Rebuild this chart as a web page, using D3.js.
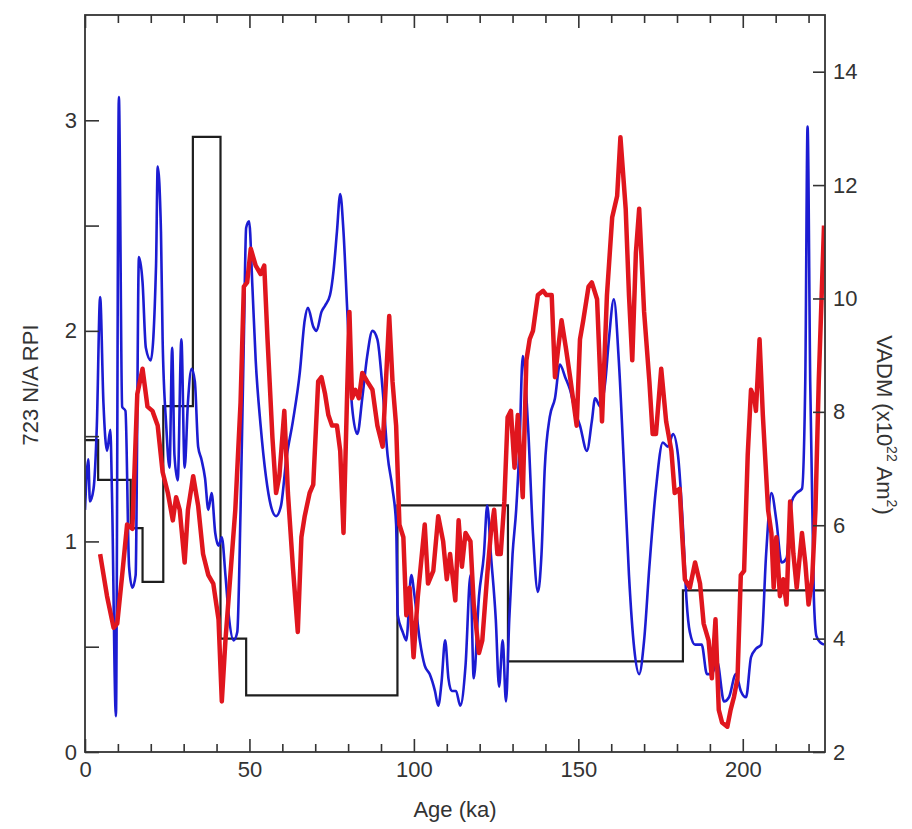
<!DOCTYPE html>
<html>
<head>
<meta charset="utf-8">
<script src="https://cdn.jsdelivr.net/npm/d3@7"></script>
<style>
  body { margin: 0; background: #fff; }
  text { font-family: "Liberation Sans", Arial, sans-serif; fill: #333; }
</style>
</head>
<body>
<div id="chart"></div>
<script>
// 723 RPI (blue), left axis
var blueAge = [0, 1.0, 1.5, 2.6, 3.6, 4.6, 5.6, 6.7, 7.7, 8.2, 9.4, 10.3, 11.3, 12.3, 13.4, 14.4, 15.4, 16.4, 17.5, 18.5,
  20.0, 21.6, 22.1, 23.1, 23.6, 24.7, 25.7, 26.5, 27.2, 28.2, 29.3, 30.3, 31.3, 32.4, 33.4, 34.4, 35.4, 36.5, 37.5, 38.5,
  39.6, 40.6, 41.6, 42.7, 43.7, 45.2, 46.3, 47.3, 48.3, 49.0, 49.9, 50.9, 51.9, 53.4, 55.0, 56.5, 58.1, 59.6, 61.2, 63.2,
  65.3, 66.8, 67.8, 69.4, 70.4, 71.9, 73.0, 74.5, 75.6, 76.6, 77.6, 78.6, 79.7, 81.2, 82.8, 84.3, 85.8, 87.4, 88.9, 90.5,
  92.0, 93.5, 94.6, 95.1, 96.6, 97.7, 99.2, 100.2, 101.8, 103.3, 104.8, 106.4, 107.4, 108.4, 109.5, 110.5, 111.5, 112.8, 114.1, 115.7,
  117.2, 118.2, 119.8, 121.3, 122.3, 123.4, 124.9, 125.9, 127.0, 128.0, 129.0, 130.0, 131.1, 132.1, 133.1, 134.7, 136.2, 137.7, 138.8, 139.8,
  141.3, 142.9, 144.4, 146.0, 147.5, 149.0, 150.5, 152.6, 154.1, 155.1, 156.7, 158.2, 159.3, 160.8, 162.3, 163.9, 165.4, 167.0, 168.5, 170.0,
  171.6, 173.6, 175.7, 177.2, 178.8, 180.3, 181.9, 182.9, 183.9, 185.5, 187.5, 189.1, 190.6, 192.2, 194.3, 195.8, 197.9, 199.4, 201.0, 202.5,
  204.0, 205.6, 207.1, 208.7, 210.2, 211.8, 213.3, 214.9, 216.4, 218.0, 219.0, 219.7, 220.5, 221.6, 222.4, 223.6, 224.7];
var blueVal = [1.15, 1.39, 1.19, 1.25, 1.55, 2.16, 1.66, 1.43, 1.53, 1.23, 0.17, 3.11, 1.64, 1.62, 0.88, 0.78, 0.84, 2.35, 2.23, 1.92,
  1.86, 2.31, 2.78, 2.47, 1.96, 1.55, 1.35, 1.92, 1.41, 1.29, 1.96, 1.35, 1.66, 1.82, 1.76, 1.45, 1.39, 1.30, 1.15, 1.23,
  1.04, 0.98, 1.02, 0.84, 0.65, 0.53, 0.57, 1.15, 1.96, 2.49, 2.52, 2.21, 1.86, 1.55, 1.31, 1.17, 1.12, 1.17, 1.39, 1.57,
  1.80, 2.05, 2.11, 2.02, 2.00, 2.09, 2.12, 2.17, 2.29, 2.47, 2.65, 2.47, 2.11, 1.64, 1.51, 1.68, 1.88, 2.00, 1.96, 1.72,
  1.41, 1.25, 1.08, 0.65, 0.57, 0.53, 0.84, 0.74, 0.53, 0.41, 0.37, 0.29, 0.22, 0.33, 0.53, 0.35, 0.29, 0.29, 0.22, 0.41,
  0.84, 0.35, 0.74, 0.94, 1.17, 0.94, 0.63, 0.31, 0.53, 0.24, 0.63, 0.94, 1.15, 1.45, 1.88, 1.55, 1.04, 0.76, 0.94, 1.35,
  1.59, 1.68, 1.84, 1.78, 1.72, 1.62, 1.55, 1.43, 1.57, 1.68, 1.64, 1.76, 1.96, 2.15, 1.86, 1.35, 0.84, 0.49, 0.37, 0.53,
  0.88, 1.25, 1.47, 1.45, 1.51, 1.41, 1.04, 0.72, 0.57, 0.51, 0.51, 0.37, 0.37, 0.43, 0.24, 0.26, 0.37, 0.29, 0.26, 0.45,
  0.49, 0.51, 0.94, 1.23, 1.10, 0.90, 0.92, 1.19, 1.23, 1.25, 1.76, 2.97, 1.76, 0.74, 0.55, 0.52, 0.51];

// red record
var redAge = [4.6, 6.7, 8.7, 9.8, 11.3, 12.8, 14.4, 15.9, 17.5, 19.0, 20.5, 22.1, 23.6, 25.2, 26.7, 27.7, 28.8, 30.3, 31.3, 32.9,
  34.4, 35.9, 37.5, 39.0, 40.6, 41.6, 42.7, 44.2, 45.7, 47.3, 48.3, 49.3, 50.4, 51.9, 53.4, 54.5, 55.5, 57.0, 58.1, 59.1,
  60.6, 61.7, 63.2, 64.7, 65.8, 66.8, 68.3, 69.4, 70.9, 71.9, 73.0, 74.0, 75.1, 76.6, 77.6, 78.6, 79.7, 80.4, 81.2, 82.2,
  83.3, 84.3, 85.8, 87.4, 88.9, 90.5, 91.5, 92.5, 93.5, 94.6, 95.6, 96.8, 97.7, 98.7, 99.9, 101.2, 103.3, 104.3, 105.9, 107.4,
  108.9, 110.0, 111.0, 112.6, 113.6, 114.6, 115.7, 117.2, 118.2, 119.8, 120.8, 122.3, 123.4, 124.4, 125.4, 126.4, 127.5, 128.5, 129.5, 130.6,
  131.6, 133.1, 134.2, 135.2, 136.2, 137.7, 139.3, 140.3, 141.9, 142.9, 143.9, 144.9, 146.2, 147.5, 149.5, 150.5, 151.5, 153.1, 154.1, 155.7,
  157.2, 158.7, 160.3, 161.8, 162.8, 164.4, 165.4, 166.4, 167.5, 168.5, 170.0, 171.6, 172.6, 173.6, 175.2, 176.7, 178.3, 179.3, 180.8, 181.6,
  182.4, 183.9, 185.5, 187.0, 188.1, 189.6, 190.6, 191.7, 192.7, 193.7, 195.3, 196.3, 197.3, 198.4, 199.4, 200.4, 201.5, 202.5, 203.5, 204.0,
  205.1, 206.1, 207.7, 208.7, 209.4, 210.2, 211.3, 212.3, 213.3, 214.4, 215.4, 216.4, 218.0, 219.0, 220.0, 221.1, 222.1, 223.1, 224.7];
var redVal = [0.94, 0.74, 0.59, 0.61, 0.84, 1.08, 1.06, 1.70, 1.82, 1.64, 1.62, 1.55, 1.33, 1.23, 1.10, 1.21, 1.15, 0.90, 1.15, 1.31,
  1.17, 0.94, 0.84, 0.80, 0.63, 0.24, 0.53, 0.84, 1.15, 1.66, 2.21, 2.23, 2.39, 2.31, 2.27, 2.31, 1.96, 1.49, 1.23, 1.31,
  1.62, 1.23, 0.88, 0.57, 1.02, 1.12, 1.23, 1.27, 1.76, 1.78, 1.70, 1.60, 1.55, 1.55, 1.43, 1.04, 1.70, 2.09, 1.68, 1.72,
  1.68, 1.80, 1.76, 1.72, 1.55, 1.45, 1.76, 2.07, 1.76, 1.55, 1.08, 1.02, 0.65, 0.78, 0.45, 0.74, 1.08, 0.80, 0.86, 1.12,
  1.00, 0.82, 0.94, 0.72, 1.10, 0.88, 1.04, 1.00, 0.70, 0.47, 0.53, 0.84, 1.04, 1.15, 0.94, 0.94, 1.19, 1.59, 1.62, 1.35,
  1.60, 1.21, 1.86, 1.96, 2.00, 2.17, 2.19, 2.17, 2.17, 1.78, 1.92, 2.05, 1.92, 1.78, 1.55, 1.96, 2.05, 2.21, 2.23, 2.15,
  1.57, 2.17, 2.54, 2.64, 2.92, 2.58, 2.17, 1.86, 2.37, 2.58, 2.09, 1.76, 1.51, 1.51, 1.82, 1.57, 1.43, 1.23, 1.25, 1.02,
  0.82, 0.78, 0.90, 0.80, 0.61, 0.53, 0.35, 0.63, 0.20, 0.14, 0.12, 0.20, 0.26, 0.35, 0.84, 0.86, 1.41, 1.72, 1.68, 1.62,
  1.96, 1.60, 1.15, 1.04, 0.78, 1.02, 0.74, 0.82, 0.70, 1.19, 0.94, 0.78, 1.04, 0.90, 0.70, 0.82, 1.15, 1.76, 2.50];

// VADM step averages (black), right axis
var stepAge = [0, 4, 13.9, 17.5, 23.8, 32.8, 41.2, 49.0, 95.0, 128.6, 181.8];
var stepVadm = [7.5, 6.8, 5.95, 5.0, 8.1, 12.85, 4.0, 3.0, 6.35, 3.6, 4.85];

var xTicks = [0, 50, 100, 150, 200];
var xMinor = [10, 20, 30, 40, 60, 70, 80, 90, 110, 120, 130, 140, 160, 170, 180, 190, 210, 220];
var yTicks = [0, 1, 2, 3];
var yMinor = [0.5, 1.5, 2.5];
var y2Ticks = [2, 4, 6, 8, 10, 12, 14];

var W = 912, H = 829;
var pL = 85, pR = 825, pT = 15, pB = 752;

var svg = d3.select('#chart').append('svg')
  .attr('width', W)
  .attr('height', H);

var x = d3.scaleLinear().domain([0, 225]).range([pL, pR]);
var y = d3.scaleLinear().domain([0, 3.5]).range([pB, pT]);
var y2 = d3.scaleLinear().domain([2, 15]).range([pB, pT]);

svg.append('clipPath').attr('id', 'plot')
  .append('rect').attr('x', pL).attr('y', pT).attr('width', pR - pL).attr('height', pB - pT);

var plot = svg.append('g').attr('clip-path', 'url(#plot)');

var steps = stepAge.map(function(a, i) { return [a, stepVadm[i]]; });
steps.push([225, stepVadm[stepVadm.length - 1]]);
plot.append('path')
  .datum(steps)
  .attr('fill', 'none')
  .attr('stroke', '#1e1e1e')
  .attr('stroke-width', 2.2)
  .attr('d', d3.line().curve(d3.curveStepAfter)
    .x(function(d) { return x(d[0]); })
    .y(function(d) { return y2(d[1]); }));

plot.append('path')
  .datum(blueAge.map(function(a, i) { return [a, blueVal[i]]; }))
  .attr('fill', 'none')
  .attr('stroke', '#1c1cd2')
  .attr('stroke-width', 2.6)
  .attr('stroke-linejoin', 'round')
  .attr('d', d3.line().curve(d3.curveMonotoneX)
    .x(function(d) { return x(d[0]); })
    .y(function(d) { return y(d[1]); }));

plot.append('path')
  .datum(redAge.map(function(a, i) { return [a, redVal[i]]; }))
  .attr('fill', 'none')
  .attr('stroke', '#e0161e')
  .attr('stroke-width', 4.5)
  .attr('stroke-linejoin', 'round')
  .attr('d', d3.line()
    .x(function(d) { return x(d[0]); })
    .y(function(d) { return y(d[1]); }));

// axes, ticks pointing in
function style(g) {
  g.select('.domain').remove();
  g.selectAll('line').attr('stroke', '#333').attr('stroke-width', 1.6);
  g.selectAll('text').attr('font-size', 22).attr('fill', '#333')
    .attr('font-family', '"Liberation Sans", Arial, sans-serif');
}

svg.append('g').attr('transform', 'translate(0,' + pB + ')')
  .call(d3.axisBottom(x).tickValues(xTicks).tickSize(-13).tickPadding(9))
  .call(style);
svg.append('g').attr('transform', 'translate(0,' + pB + ')')
  .call(d3.axisBottom(x).tickValues(xMinor).tickSize(-8).tickFormat(''))
  .call(style);
svg.append('g').attr('transform', 'translate(0,' + pT + ')')
  .call(d3.axisTop(x).tickValues(xTicks).tickSize(-13).tickFormat(''))
  .call(style);
svg.append('g').attr('transform', 'translate(0,' + pT + ')')
  .call(d3.axisTop(x).tickValues(xMinor).tickSize(-8).tickFormat(''))
  .call(style);

svg.append('g').attr('transform', 'translate(' + pL + ',0)')
  .call(d3.axisLeft(y).tickValues(yTicks).tickSize(-14).tickPadding(8).tickFormat(d3.format('d')))
  .call(style);
svg.append('g').attr('transform', 'translate(' + pL + ',0)')
  .call(d3.axisLeft(y).tickValues(yMinor).tickSize(-14).tickFormat(''))
  .call(style);

svg.append('g').attr('transform', 'translate(' + pR + ',0)')
  .call(d3.axisRight(y2).tickValues(y2Ticks).tickSize(-12).tickPadding(8))
  .call(style);

svg.append('rect')
  .attr('x', pL).attr('y', pT)
  .attr('width', pR - pL).attr('height', pB - pT)
  .attr('fill', 'none').attr('stroke', '#333').attr('stroke-width', 1.8);

// titles
svg.append('text')
  .attr('x', 455).attr('y', 817)
  .attr('text-anchor', 'middle').attr('font-size', 22)
  .text('Age (ka)');

svg.append('text')
  .attr('transform', 'translate(38,385) rotate(-90)')
  .attr('text-anchor', 'middle').attr('font-size', 22)
  .text('723 N/A RPI');

var t2 = svg.append('text')
  .attr('transform', 'translate(877,425) rotate(90)')
  .attr('text-anchor', 'middle').attr('font-size', 22);
t2.append('tspan').text('VADM (x10');
t2.append('tspan').attr('font-size', 14).attr('dy', -10).text('22');
t2.append('tspan').attr('dy', 10).text(' Am');
t2.append('tspan').attr('font-size', 14).attr('dy', -10).text('2');
t2.append('tspan').attr('dy', 10).text(')');
</script>
</body>
</html>
